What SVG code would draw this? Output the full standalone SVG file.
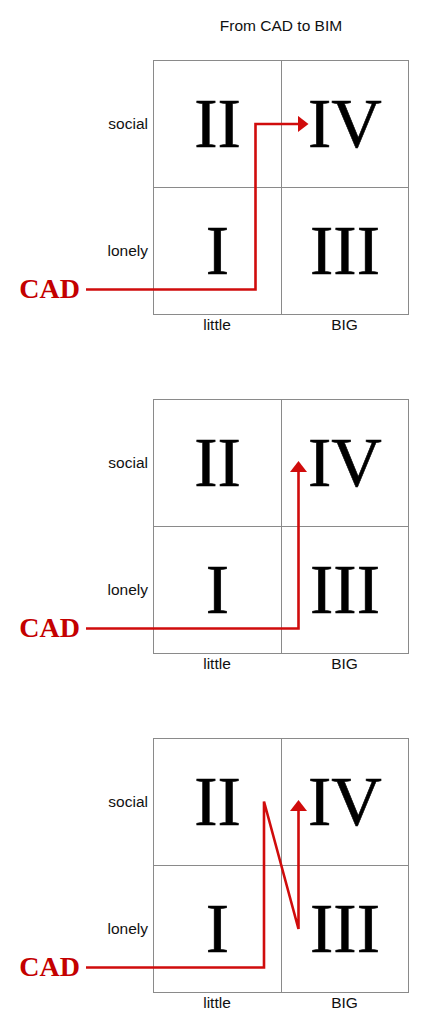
<svg xmlns="http://www.w3.org/2000/svg" width="438" height="1024" viewBox="0 0 438 1024">
<style>
.grid{fill:none;stroke:#8a8a8a;stroke-width:1}
.lbl{font-family:"Liberation Sans",Arial,sans-serif;font-size:15.5px;fill:#111}
.num{font-family:"Liberation Serif","Times New Roman",serif;font-size:70px;fill:#000;stroke:#000;stroke-width:0.6;text-anchor:middle}
.cad{font-family:"Liberation Serif","Times New Roman",serif;font-size:28px;font-weight:bold;fill:#c40000}
.conn{fill:none;stroke:#d00c0c;stroke-width:2.6;stroke-linejoin:miter}
</style>
<defs>
<marker id="ah" viewBox="0 0 11 17" refX="0.5" refY="8.5" markerWidth="11" markerHeight="17" markerUnits="userSpaceOnUse" orient="auto">
<path d="M0,0 L11,8.5 L0,17 z" fill="#d00c0c"/>
</marker>
<g id="quad">
<rect class="grid" x="153.5" y="60.5" width="255" height="254"/>
<line class="grid" x1="281.5" y1="60.5" x2="281.5" y2="314.5"/>
<line class="grid" x1="153.5" y1="187.5" x2="408.5" y2="187.5"/>
<text class="num" x="217.5" y="147">II</text>
<text class="num" x="345" y="147">IV</text>
<text class="num" x="217.5" y="273.5">I</text>
<text class="num" x="345" y="273.5">III</text>
<text class="lbl" x="148" y="129" text-anchor="end">social</text>
<text class="lbl" x="148" y="255.5" text-anchor="end">lonely</text>
<text class="lbl" x="217" y="329.5" text-anchor="middle">little</text>
<text class="lbl" x="344.5" y="329.5" text-anchor="middle">BIG</text>
<text class="cad" x="19.2" y="297.5">CAD</text>
</g>
</defs>
<text class="lbl" x="281" y="31" text-anchor="middle">From CAD to BIM</text>
<g id="panel1"><use href="#quad"/></g>
<g id="panel2"><use href="#quad" y="339"/></g>
<g id="panel3"><use href="#quad" y="678"/></g>
<g id="connectors">
<path class="conn" d="M86,289.5 H255.5 V124 H298" marker-end="url(#ah)"/>
<path class="conn" d="M86,628.5 H298.5 V471.5" marker-end="url(#ah)"/>
<path class="conn" d="M86,967.5 H264 V801.5 L298.5,929 V810.5" marker-end="url(#ah)"/>
</g>
</svg>
